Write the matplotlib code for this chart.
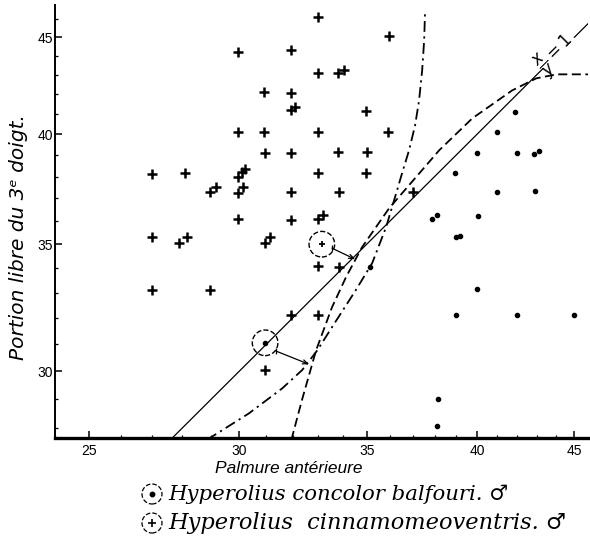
import numpy as np
import matplotlib
matplotlib.use('Agg')
import matplotlib.pyplot as plt
from matplotlib.patches import Circle
from matplotlib.ticker import FixedLocator, FixedFormatter, NullFormatter

# Hyperolius cinnamomeoventris (+)
cinna_x = [27.0, 28.1, 27.0, 27.9, 28.15, 27.0, 28.95, 28.95, 29.15, 29.95, 29.95, 29.95, 30.1, 30.2,
           29.95, 30.15, 29.95, 30.9, 30.9, 30.95, 30.95, 31.15, 30.95, 31.95, 31.95, 31.95, 32.1, 31.95,
           31.95, 31.95, 31.95, 33.0, 33.0, 33.8, 34.05, 33.0, 33.8, 33.0, 33.85, 33.0, 33.2, 33.0, 33.85,
           33.0, 34.95, 35.0, 34.95, 35.95, 35.9, 37.0]
cinna_y = [38.1, 38.15, 35.3, 35.05, 35.3, 33.1, 33.1, 37.3, 37.5, 44.2, 40.1, 38.0, 38.2, 38.35,
           37.25, 37.5, 36.1, 42.1, 40.1, 39.1, 35.05, 35.3, 30.05, 44.3, 42.05, 41.2, 41.35, 39.1,
           37.3, 36.05, 32.1, 46.15, 43.1, 43.1, 43.25, 40.1, 39.15, 38.15, 37.3, 36.1, 36.25, 34.1, 34.05,
           32.1, 41.15, 39.15, 38.15, 45.05, 40.1, 37.3]

# Hyperolius concolor balfouri (dots)
conc_x = [41.9, 41.0, 40.0, 42.0, 42.85, 43.1, 38.95, 41.0, 42.9, 37.9, 38.1, 40.05, 39.0, 39.2,
          40.0, 39.0, 42.0, 45.0, 38.15, 38.1, 35.15]
conc_y = [41.1, 40.1, 39.1, 39.1, 39.05, 39.2, 38.15, 37.3, 37.35, 36.1, 36.25, 36.2, 35.3, 35.35,
          33.15, 32.1, 32.1, 32.1, 29.0, 28.05, 34.05]

# circled specimens
circ_dot = (30.95, 31.05)
circ_plus = (33.15, 35.0)

# x/y = 1 line (split around its label)
ratio_seg1 = [27.5, 43.3]
ratio_seg2 = [45.0, 47.0]

# dash-dot curve
dd_x = [28.85, 30.35, 31.6, 32.37, 32.97, 33.57, 34.54, 35.23, 35.83, 36.27, 36.53, 36.84, 37.11,
        37.29, 37.43, 37.52, 37.56]
dd_y = [27.6, 28.5, 29.38, 30.04, 30.77, 31.66, 33.1, 34.2, 35.73, 37.23, 38.15, 39.23, 40.43,
        41.68, 43.23, 44.83, 46.38]

# dashed curve
da_x = [31.95, 32.36, 32.92, 33.56, 34.13, 34.8, 35.96, 38.21, 39.77, 41.74, 42.97, 44.03, 45.66, 46.5]
da_y = [27.6, 28.96, 30.77, 32.42, 33.62, 34.87, 36.56, 39.23, 40.78, 42.19, 42.81, 43.02, 43.02, 43.0]

# projection arrows (start, end)
arrow_dot = ((31.36, 30.74), (32.64, 30.25))
arrow_plus = ((33.56, 34.83), (34.51, 34.37))

x_major = [25, 30, 35, 40, 45]
y_major = [30, 35, 40, 45]

W, H = 590, 548
fig = plt.figure(figsize=(W / 100, H / 100), dpi=100)
ax = fig.add_axes([55 / W, 110 / H, 533 / W, 433 / H])
ax.set_xscale('log')
ax.set_yscale('log')
ax.set_xlim(24.0, 45.75)
ax.set_ylim(27.66, 46.8)

ax.plot(ratio_seg1, ratio_seg1, color='black', lw=0.9)
ax.plot(ratio_seg2, ratio_seg2, color='black', lw=0.9)
ax.plot(dd_x, dd_y, color='black', lw=1.3, linestyle=(0, (6, 2.5, 1.2, 2.5)))
ax.plot(da_x, da_y, color='black', lw=1.3, linestyle=(0, (5, 2.5)))

ax.plot(cinna_x, cinna_y, linestyle='none', marker='+', color='black', markersize=6.5, mew=1.8)
ax.plot(conc_x, conc_y, linestyle='none', marker='o', color='black', markersize=3)
ax.plot([circ_dot[0]], [circ_dot[1]], linestyle='none', marker='o', color='black', markersize=3)
ax.plot([circ_plus[0]], [circ_plus[1]], linestyle='none', marker='+', color='black', markersize=5, mew=1.3)
ax.scatter([circ_dot[0], circ_plus[0]], [circ_dot[1], circ_plus[1]], s=340, facecolors='none',
           edgecolors='black', linewidths=1.0, linestyles='--')

for start, end in [arrow_dot, arrow_plus]:
    ax.annotate('', xy=end, xytext=start,
                arrowprops=dict(arrowstyle='->,head_length=0.35,head_width=0.15',
                                color='black', lw=0.9, shrinkA=0, shrinkB=0))
    ax.plot([start[0]], [start[1]], linestyle='none', marker='|', color='black', markersize=4, mew=0.9)

ax.text(44.05, 44.05, r'$\dfrac{x}{y}=1$', rotation=45, ha='center', va='center', fontsize=12)

for side in ['top', 'right']:
    ax.spines[side].set_visible(False)
ax.spines['bottom'].set_linewidth(2.4)
ax.spines['left'].set_linewidth(1.4)

tick_font = 'Liberation Sans'
ax.xaxis.set_major_locator(FixedLocator(x_major))
ax.xaxis.set_major_formatter(FixedFormatter([str(v) for v in x_major]))
ax.xaxis.set_minor_locator(FixedLocator([v for v in range(24, 47) if v not in x_major]))
ax.xaxis.set_minor_formatter(NullFormatter())
ax.yaxis.set_major_locator(FixedLocator(y_major))
ax.yaxis.set_major_formatter(FixedFormatter([str(v) for v in y_major]))
ax.yaxis.set_minor_locator(FixedLocator([v for v in range(27, 48) if v not in y_major]))
ax.yaxis.set_minor_formatter(NullFormatter())
ax.tick_params(which='major', direction='in', length=5, width=1.1, labelsize=10)
ax.tick_params(axis='x', which='major', pad=4)
ax.tick_params(axis='y', which='major', pad=1.5)
ax.tick_params(which='minor', direction='in', length=2.5, width=0.9)
for lab in ax.get_xticklabels() + ax.get_yticklabels():
    lab.set_family(tick_font)

ax.set_xlabel('Palmure antérieure', fontsize=12.5, style='italic', family='Liberation Sans')
ax.xaxis.set_label_coords((289 - 55) / 533, -0.052)
ax.set_ylabel('Portion libre du 3ᵉ doigt.', fontsize=14.5, style='italic')
ax.yaxis.set_label_coords(-0.05, (438 - 237) / 433)

# legend drawn under the axes
leg_font = ['DejaVu Serif', 'DejaVu Sans']
leg_rows = [(494, 'o', 'Hyperolius concolor balfouri. ♂', 15.3),
            (523, '+', 'Hyperolius  cinnamomeoventris. ♂', 16.2)]
for py, mk, label, fs in leg_rows:
    cx, cy = 152 / 100, (H - py) / 100
    fig.add_artist(Circle((cx, cy), 0.1, transform=fig.dpi_scale_trans, fill=False,
                          ls='--', lw=0.9, color='black'))
    fig.add_artist(plt.Line2D([cx], [cy], transform=fig.dpi_scale_trans, marker=mk, color='black',
                              markersize=3 if mk == 'o' else 6, mew=1.2))
    fig.text(168 / W, 1 - py / H, label, ha='left', va='center', fontsize=fs, style='italic',
             family=leg_font)

fig.savefig('out.png', dpi=100)
